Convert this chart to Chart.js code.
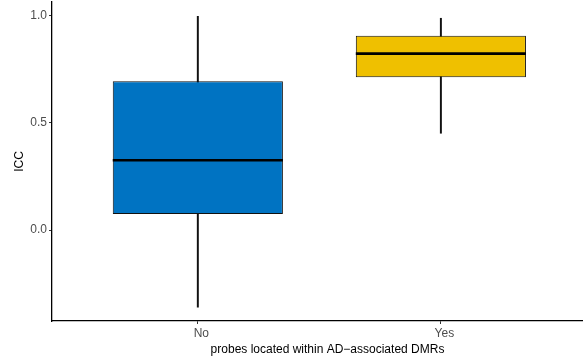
<!DOCTYPE html>
<html>
<head>
<meta charset="utf-8">
<script src="https://cdn.jsdelivr.net/npm/chart.js@4/dist/chart.umd.min.js"></script>
<style>
  html, body { margin: 0; padding: 0; background: #ffffff; }
  #wrap { width: 583px; height: 359px; }
</style>
</head>
<body>
<div id="wrap"><canvas id="c" width="583" height="359"></canvas></div>
<script>
// Box-plot summary of ICC per group
const categories = ["No", "Yes"];
const whiskerLow = [-0.36, 0.452];
const q1 = [0.075, 0.713];
const medians = [0.326, 0.824];
const q3 = [0.695, 0.907];
const whiskerHigh = [0.998, 0.989];
const yTicks = [0.0, 0.5, 1.0];
const fills = ["#0073C2", "#EFC000"];

const xPos = categories.map((_, i) => i + 1);
const boxData = xPos.map((x, i) => ({ x, y: [q1[i], q3[i]] }));
const whiskerData = xPos.map((x, i) => ({ x, y: [whiskerLow[i], whiskerHigh[i]] }));

const FONT = "'Liberation Sans', Arial, Helvetica, sans-serif";
const FSIZE = 12;
const PANEL_OVERHANG = 20; // x axis panel continues past the right edge

// let the x scale run beyond the canvas so its title centres on the whole panel
const widePanel = {
  id: 'widePanel',
  afterLayout(chart) {
    const s = chart.scales.x;
    s.right = s.right + PANEL_OVERHANG;
    s.width = s.right - s.left;
    s.configure();
  }
};

// median line across each box, placed through the y scale
const medianLines = {
  id: 'medianLines',
  afterDatasetsDraw(chart) {
    const ctx = chart.ctx;
    const yScale = chart.scales.y;
    const meta = chart.getDatasetMeta(0);
    ctx.save();
    ctx.strokeStyle = '#000000';
    ctx.lineWidth = 2.6;
    meta.data.forEach((bar, i) => {
      const py = yScale.getPixelForValue(medians[i]);
      ctx.beginPath();
      ctx.moveTo(bar.x - bar.width / 2, py);
      ctx.lineTo(bar.x + bar.width / 2, py);
      ctx.stroke();
    });
    ctx.restore();
  }
};

new Chart(document.getElementById('c'), {
  type: 'bar',
  data: {
    datasets: [
      {
        label: 'box',
        data: boxData,
        backgroundColor: fills,
        borderColor: '#111111',
        borderWidth: 1,
        borderSkipped: false,
        grouped: false,
        barPercentage: 0.7,
        categoryPercentage: 1.0
      },
      {
        label: 'whisker',
        data: whiskerData,
        backgroundColor: '#111111',
        borderWidth: 0,
        grouped: false,
        barThickness: 1.3
      }
    ]
  },
  options: {
    responsive: false,
    devicePixelRatio: 1,
    animation: false,
    layout: { padding: { top: 2, right: 0, bottom: 0, left: 0 } },
    plugins: {
      legend: { display: false },
      tooltip: { enabled: false }
    },
    scales: {
      x: {
        type: 'linear',
        offset: false,
        min: 0.4,
        max: 2.667,
        afterBuildTicks: (s) => { s.ticks = xPos.map(v => ({ value: v })); },
        afterFit: (s) => { s.height = 38; s.paddingLeft = 0; s.paddingRight = 0; },
        ticks: {
          callback: (v, i) => categories[i],
          color: '#4d4d4d',
          font: { family: FONT, size: FSIZE },
          padding: 2,
          labelOffset: 3.5,
          autoSkip: false,
          maxRotation: 0
        },
        grid: { display: true, offset: false, drawOnChartArea: false, drawTicks: true, tickLength: 3, color: '#333333', tickWidth: 1 },
        border: { display: true, color: '#000000', width: 1.3 },
        title: {
          display: true,
          text: 'probes located within AD\u2212associated DMRs',
          color: '#000000',
          font: { family: FONT, size: FSIZE },
          padding: { top: 0, bottom: 1.8 }
        }
      },
      y: {
        type: 'linear',
        min: -0.425,
        max: 1.065,
        afterBuildTicks: (s) => { s.ticks = yTicks.map(v => ({ value: v })); },
        afterFit: (s) => { s.width = 52; s.paddingTop = 0; s.paddingBottom = 0; },
        ticks: {
          callback: (v) => Number(v).toFixed(1),
          color: '#4d4d4d',
          font: { family: FONT, size: FSIZE },
          padding: 2
        },
        grid: { display: true, drawOnChartArea: false, drawTicks: true, tickLength: 3, color: '#333333', tickWidth: 1 },
        border: { display: true, color: '#000000', width: 1.3 },
        title: {
          display: true,
          text: 'ICC',
          color: '#000000',
          font: { family: FONT, size: FSIZE },
          padding: { top: 12.8, bottom: 0 }
        }
      }
    }
  },
  plugins: [widePanel, medianLines]
});
</script>
</body>
</html>
